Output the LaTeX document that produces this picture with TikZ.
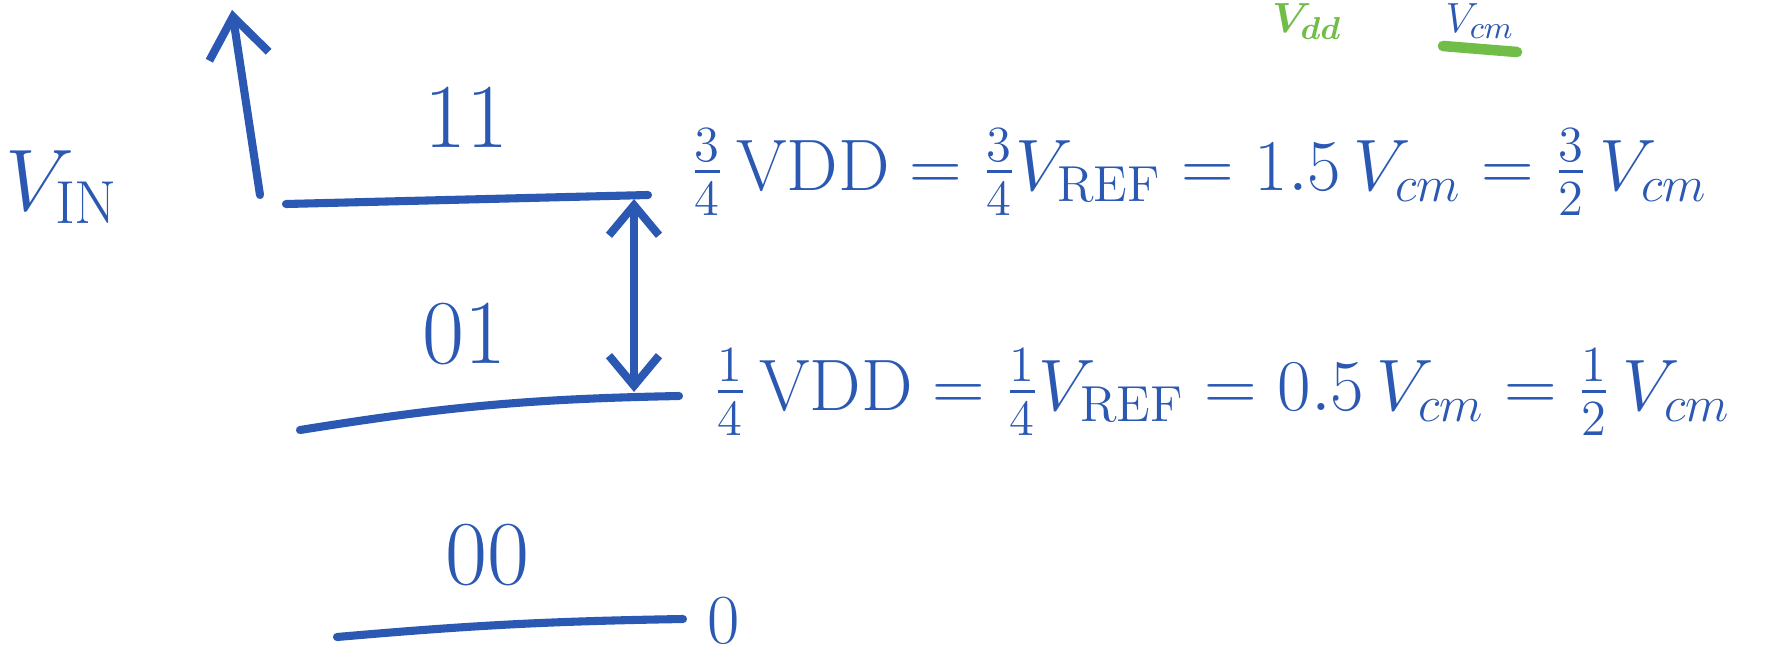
\documentclass[tikz,border=0pt]{standalone}
\usepackage{amsmath}
\usetikzlibrary{arrows.meta,positioning,calc}

\definecolor{inkblue}{RGB}{42,88,178}
\definecolor{inkgreen}{RGB}{112,190,72}

\begin{document}
\begin{tikzpicture}[
  ink/.style={draw=inkblue, line width=2.3pt, line cap=round},
  level/.style={text=inkblue, font=\fontsize{26}{30}\selectfont, inner sep=0pt},
  eqn/.style={text=inkblue, font=\fontsize{22}{26}\selectfont, inner sep=0pt, anchor=west},
  edge/.style={ink, -{Straight Barb[length=4mm,width=6mm,line width=2.3pt]}},
  dedge/.style={ink, {Straight Barb[length=3mm,width=5mm,line width=2.3pt]}-{Straight Barb[length=3mm,width=5mm,line width=2.3pt]}}
]
\useasboundingbox (0,0) rectangle (17.75,-6.55);
\fill[white] (0,0) rectangle (17.75,-6.55);

% input axis
\node[level, font=\fontsize{24}{28}\selectfont] (vin) at (0.62,-1.87) {$V_{\mathrm{IN}}$};
\coordinate (axbot) at (2.60,-1.95);
\coordinate (axtop) at (2.32,-0.10);
\draw[edge] (axbot) -- (axtop);

% thresholds
\coordinate (t1) at (2.86,-2.04);
\coordinate (t2) at (6.48,-1.95);
\coordinate (m1) at (3.00,-4.30);
\coordinate (m2) at (6.79,-3.96);
\coordinate (b1) at (3.37,-6.37);
\coordinate (b2) at (6.83,-6.19);
\draw[ink] (t1) -- (t2);
\draw[ink] (m1) to[bend left=4] (m2);
\draw[ink] (b1) to[bend left=2] (b2);

% codes
\node[level] (code11) at (4.66,-1.17) {11};
\node[level] (code01) at (4.64,-3.34) {01};
\node[level] (code00) at (4.87,-5.55) {00};
\node[level, font=\fontsize{20}{24}\selectfont] (zero) at (7.24,-6.21) {0};

% spacing between the two thresholds
\coordinate (d1) at (6.34,-1.99);
\coordinate (d2) at (6.34,-3.92);
\draw[dedge] (d1) -- (d2);

% threshold values
\node[eqn] (eqtop) at (6.90,-1.72)
  {$\tfrac{3}{4}\,\mathrm{VDD} = \tfrac{3}{4}V_{\mathrm{REF}} = 1.5\,V_{cm} = \tfrac{3}{2}\,V_{cm}$};
\node[eqn] (eqbot) at (7.13,-3.92)
  {$\tfrac{1}{4}\,\mathrm{VDD} = \tfrac{1}{4}V_{\mathrm{REF}} = 0.5\,V_{cm} = \tfrac{1}{2}\,V_{cm}$};

% notes at the top edge
\node[text=inkblue, font=\fontsize{13}{16}\selectfont, inner sep=0pt, anchor=north] (vcm) at (14.80,-0.03) {$V_{cm}$};
\coordinate (ul1) at (14.43,-0.46);
\coordinate (ul2) at (15.17,-0.52);
\draw[draw=inkgreen, line width=3pt, line cap=round] (ul1) -- (ul2);
\node[text=inkgreen, font=\fontsize{13}{16}\selectfont, inner sep=0pt, anchor=north] (vdd) at (13.07,-0.03) {$\boldsymbol{V_{dd}}$};

\end{tikzpicture}
\end{document}
